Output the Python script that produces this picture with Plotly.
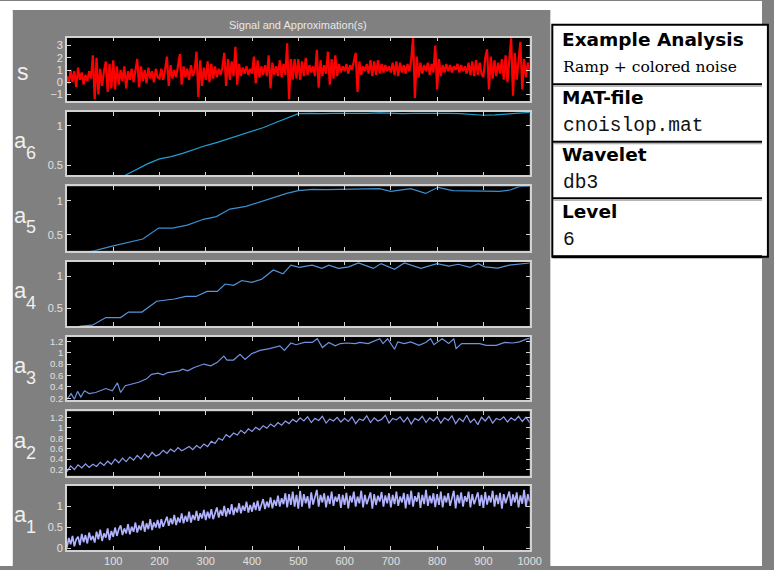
import plotly.graph_objects as go

# ---- signal and approximations (sample index 0..1000) ----
s_step = 4
s_vals = [
    0.5, -0.1, 1.0, 0.0, 0.9, -0.4, 1.2, 0.2, 0.8, -0.2, 0.6, 0.1, 0.9, 0.3, 2.2, -1.4, 2.0, -1.0, 1.1, -0.3, 0.9, 1.7, -0.8, 1.5, -0.5,
    1.8, -0.6, 1.3, -0.2, 1.0, 0.1, 1.3, -0.5, 0.9, 0.2, 1.1, 0.0, 0.8, 1.9, -0.4, 1.3, 0.1, 1.0, -0.1, 1.2, 0.3, 0.9, 0.0, 1.1, 0.4,
    0.3, 1.1, 0.2, 1.0, 2.1, -0.3, 1.4, 0.3, 1.0, 0.4, 1.2, 2.3, -0.2, 1.3, 0.4, 1.1, 0.2, 1.4, 0.5, 1.0, 2.5, -1.2, 1.8, -0.3, 1.2,
    0.2, 1.7, 0.0, 1.5, 0.3, 1.3, 0.4, 1.1, 0.6, 1.2, 2.4, -0.3, 1.9, 0.2, 1.7, 0.5, 2.9, -0.2, 1.5, 0.5, 1.2, 0.7, 1.3, 0.6, 1.1,
    0.7, 2.1, -0.1, 1.8, 0.4, 1.3, 0.6, 1.4, 0.5, 2.2, -0.5, 1.6, 0.6, 1.3, 0.5, 1.8, 0.4, 1.5, 0.6, 3.2, -1.4, 1.9, 0.2, 1.9, 0.3,
    1.9, 0.2, 1.7, 0.5, 2.0, 0.6, 1.4, 0.8, 1.3, 0.5, 2.65, -0.45, 1.8, 0.5, 1.4, 0.7, 2.5, -0.2, 1.9, 0.3, 2.2, 0.5, 1.5, 0.8, 1.3,
    0.9, 1.5, 0.7, 1.4, 1.0, 1.6, 2.4, -0.8, 1.7, 0.6, 1.3, 0.9, 1.5, 0.7, 1.8, 0.5, 1.7, 0.6, 1.8, 0.7, 1.5, 0.8, 1.4, 0.9, 1.3,
    0.8, 1.6, 0.6, 1.7, 0.5, 1.6, 0.8, 1.4, 0.7, 1.5, 0.9, 1.8, 3.7, -1.3, 2.1, 0.4, 1.6, 0.7, 1.4, 0.9, 1.6, 0.6, 1.5, 0.8, 3.0,
    -0.6, 1.9, 0.5, 1.4, 0.8, 1.5, 0.9, 1.4, 0.8, 1.3, 1.0, 1.5, 0.8, 1.4, 0.9, 1.3, 0.7, 1.6, 0.6, 1.7, 0.5, 1.8, 0.6, 1.6, 0.7,
    0.4, 2.0, 2.7, -0.6, 2.1, 0.3, 1.8, 0.5, 1.6, 0.7, 1.9, 0.2, 2.2, 0.0, 1.8, 3.6, -1.1, 2.4, 0.2, 1.9, 3.3, -0.6, 1.9, 0.4, 1.6,
    1.0,
]

a6_x = [0, 50, 100, 125, 150, 175, 200, 225, 250, 275, 300, 325, 350, 375, 400, 425, 450, 475, 500, 525,
        550, 575, 600, 625, 650, 675, 700, 725, 750, 775, 800, 825, 850, 875, 900, 925, 950, 975, 1000]
a6_y = [0.14, 0.22, 0.31, 0.37, 0.45, 0.52, 0.58, 0.61, 0.65, 0.70, 0.75, 0.79, 0.84, 0.88, 0.93, 0.98,
        1.04, 1.10, 1.155, 1.16, 1.155, 1.16, 1.16, 1.155, 1.16, 1.165, 1.16, 1.155, 1.16, 1.16, 1.165,
        1.16, 1.155, 1.145, 1.135, 1.14, 1.15, 1.165, 1.17]

a5_x = [0, 30, 60, 100, 139, 164, 198, 228, 260, 295, 323, 352, 387, 423, 451, 475, 500, 530, 560, 600,
        640, 675, 700, 743, 775, 802, 834, 870, 902, 934, 958, 977, 1000]
a5_y = [0.18, 0.22, 0.27, 0.34, 0.40, 0.44, 0.60, 0.60, 0.645, 0.73, 0.77, 0.88, 0.92, 1.00, 1.06, 1.11,
        1.15, 1.17, 1.165, 1.17, 1.17, 1.18, 1.14, 1.18, 1.11, 1.20, 1.15, 1.15, 1.15, 1.14, 1.16, 1.21, 1.22]

a4_x = [0, 30, 55, 84, 116, 133, 162, 194, 232, 257, 279, 303, 325, 342, 360, 378, 399, 421, 446, 467,
        484, 502, 530, 551, 566, 587, 609, 630, 662, 679, 708, 729, 765, 800, 825, 846, 871, 889, 903, 931,
        956, 984, 1000]
a4_y = [0.17, 0.22, 0.235, 0.354, 0.354, 0.44, 0.44, 0.61, 0.645, 0.685, 0.685, 0.765, 0.765, 0.88, 0.86,
        0.935, 0.905, 0.955, 1.10, 1.04, 1.175, 1.14, 1.175, 1.125, 1.175, 1.125, 1.15, 1.21, 1.125, 1.20,
        1.11, 1.21, 1.125, 1.20, 1.16, 1.19, 1.14, 1.20, 1.15, 1.13, 1.175, 1.20, 1.21]

a3_x = [0, 9, 16, 23, 30, 38, 48, 62, 84, 98, 109, 116, 126, 155, 172, 183, 197, 208, 218, 243,
        250, 261, 275, 296, 311, 325, 339, 346, 360, 374, 385, 399, 417, 438, 460, 470, 484, 495, 513, 530,
        541, 552, 566, 580, 591, 605, 623, 633, 651, 676, 683, 693, 708, 715, 729, 743, 761, 775, 786, 793,
        811, 825, 836, 841, 853, 874, 892, 906, 928, 946, 963, 978, 988, 997, 1000]
a3_y = [0.18, 0.28, 0.18, 0.32, 0.22, 0.33, 0.28, 0.30, 0.37, 0.33, 0.47, 0.30, 0.42, 0.48, 0.54, 0.62,
        0.64, 0.61, 0.65, 0.68, 0.71, 0.68, 0.74, 0.80, 0.77, 0.83, 0.94, 0.87, 0.87, 0.97, 0.88, 0.98,
        1.04, 1.07, 1.12, 1.04, 1.17, 1.14, 1.18, 1.18, 1.245, 1.09, 1.18, 1.12, 1.16, 1.17, 1.16, 1.18,
        1.16, 1.245, 1.16, 1.245, 1.06, 1.19, 1.16, 1.19, 1.13, 1.18, 1.245, 1.14, 1.245, 1.16, 1.245,
        1.07, 1.16, 1.16, 1.16, 1.13, 1.13, 1.18, 1.17, 1.19, 1.22, 1.25, 1.24]

a2_step = 8
a2_vals = [
    0.16, 0.27, 0.20, 0.29, 0.23, 0.31, 0.24, 0.30, 0.26, 0.34, 0.28, 0.36, 0.30, 0.40, 0.33, 0.42, 0.35, 0.44, 0.38, 0.47, 0.40, 0.50, 0.43, 0.53, 0.46,
    0.49, 0.57, 0.51, 0.59, 0.54, 0.62, 0.56, 0.60, 0.64, 0.58, 0.66, 0.61, 0.69, 0.64, 0.74, 0.70, 0.80, 0.76, 0.87, 0.82, 0.90, 0.86, 0.95, 0.89, 0.98,
    0.93, 1.01, 0.96, 1.04, 0.99, 1.07, 1.02, 1.10, 1.05, 1.13, 1.08, 1.16, 1.11, 1.19, 1.13, 1.21, 1.10, 1.18, 1.14, 1.22, 1.09, 1.17, 1.13, 1.20, 1.11,
    1.18, 1.12, 1.21, 1.08, 1.17, 1.14, 1.23, 1.10, 1.19, 1.13, 1.16, 1.24, 1.09, 1.18, 1.15, 1.21, 1.11, 1.20, 1.07, 1.18, 1.14, 1.22, 1.10, 1.19, 1.13,
    1.21, 1.09, 1.19, 1.14, 1.23, 1.08, 1.18, 1.12, 1.24, 1.10, 1.17, 1.06, 1.20, 1.13, 1.22, 1.09, 1.18, 1.15, 1.21, 1.11, 1.19, 1.14, 1.22, 1.12, 1.20,
    1.10,
]

a1_step = 4
a1_vals = [
    0.02, 0.25, 0.10, 0.30, 0.05, 0.22, 0.28, 0.08, 0.35, 0.15, 0.32, 0.12, 0.38, 0.20, 0.30, 0.14, 0.40, 0.22, 0.45, 0.18, 0.36, 0.26, 0.48, 0.20, 0.42,
    0.28, 0.50, 0.30, 0.46, 0.55, 0.32, 0.48, 0.36, 0.58, 0.34, 0.52, 0.40, 0.62, 0.38, 0.55, 0.44, 0.66, 0.40, 0.60, 0.46, 0.70, 0.44, 0.62, 0.50, 0.68,
    0.48, 0.70, 0.52, 0.66, 0.76, 0.54, 0.72, 0.58, 0.80, 0.56, 0.74, 0.62, 0.84, 0.60, 0.78, 0.64, 0.88, 0.62, 0.80, 0.68, 0.90, 0.66, 0.84, 0.72, 0.92,
    0.68, 0.88, 0.72, 0.94, 0.70, 0.86, 0.98, 0.74, 0.92, 0.78, 1.02, 0.76, 0.96, 0.82, 1.06, 0.80, 0.98, 0.86, 1.08, 0.84, 1.02, 0.90, 1.12, 0.86, 1.04,
    0.88, 1.10, 0.92, 1.14, 0.90, 1.06, 1.18, 0.94, 1.12, 0.98, 1.22, 0.96, 1.16, 1.02, 1.26, 1.00, 1.20, 1.06, 1.32, 0.98, 1.30, 1.04, 1.36, 1.00, 1.28,
    0.95, 1.38, 1.00, 1.30, 1.08, 1.25, 0.96, 1.34, 1.05, 1.22, 1.40, 1.00, 1.28, 1.10, 1.32, 0.98, 1.26, 1.06, 1.36, 1.02, 1.24, 1.12, 1.30, 0.97, 1.28,
    1.04, 1.33, 0.96, 1.26, 1.10, 1.36, 1.00, 1.24, 1.08, 1.38, 0.98, 1.28, 1.06, 1.22, 1.34, 0.95, 1.30, 1.04, 1.26, 1.12, 1.35, 1.00, 1.27, 1.08, 1.32,
    0.98, 1.28, 1.06, 1.36, 1.02, 1.24, 1.10, 1.33, 0.96, 1.30, 1.05, 1.38, 1.00, 1.25, 1.12, 1.34, 0.97, 1.28, 1.06, 1.40, 1.02, 1.26, 1.08, 1.32, 0.99,
    1.30, 1.04, 1.36, 0.98, 1.26, 1.10, 1.32, 1.02, 1.24, 1.38, 0.96, 1.28, 1.08, 1.34, 1.00, 1.25, 1.12, 1.36, 0.98, 1.30, 1.06, 1.22, 1.34, 1.02, 1.28,
    0.97, 1.35, 1.05, 1.26, 1.10, 1.38, 1.00, 1.28, 1.06, 1.33, 0.95, 1.30, 1.08, 1.24, 1.36, 1.02, 1.29, 1.10, 1.34, 0.98, 1.27, 1.07, 1.40, 1.00, 1.30,
    1.12,
]

x_ticks = [100, 200, 300, 400, 500, 600, 700, 800, 900, 1000]

# ---- page geometry (pixels) ----
W, H = 774, 570


def fx(x):
    return x / W


def fy(y):
    return 1 - y / H


GRAY = "#808080"
FRAME = "#d2d2d2"
LABFONT = "Liberation Sans, Arial, sans-serif"


def tickfont(size):
    return dict(family=LABFONT, size=size, color="#e0e0e0")


fine = ["0.2", "0.4", "0.6", "0.8", "1", "1.2"]
panels = [
    # label, sub, x, y, color, width, top, bottom, yrange, tickvals, ticktext, tick size
    ("s", "", [i * s_step for i in range(len(s_vals))], s_vals, "#ff0000", 2.2, 37, 101,
     [-1.55, 3.65], [-1, 0, 1, 2, 3], ["\u22121", "0", "1", "2", "3"], 11),
    ("a", "6", a6_x, a6_y, "#1e9fd2", 1.2, 112, 176, [0.37, 1.176], [0.5, 1], ["0.5", "1"], 11),
    ("a", "5", a5_x, a5_y, "#3a8fcf", 1.2, 187, 252, [0.267, 1.214], [0.5, 1], ["0.5", "1"], 11),
    ("a", "4", a4_x, a4_y, "#5595db", 1.2, 263, 328, [0.22, 1.23], [0.5, 1], ["0.5", "1"], 11),
    ("a", "3", a3_x, a3_y, "#6f93e0", 1.2, 339, 403, [0.16, 1.275], [0.2, 0.4, 0.6, 0.8, 1, 1.2], fine, 9.5),
    ("a", "2", [i * a2_step for i in range(len(a2_vals))], a2_vals, "#8e9cee", 1.2, 414, 479,
     [0.08, 1.314], [0.2, 0.4, 0.6, 0.8, 1, 1.2], fine, 9.5),
    ("a", "1", [i * a1_step for i in range(len(a1_vals))], a1_vals, "#b0b2ff", 1.7, 489, 554,
     [-0.04, 1.5], [0, 0.5, 1], ["0", "0.5", "1"], 11),
]


def label(text, x, y, size, color, family=LABFONT, xanchor="center"):
    return dict(text=text, x=fx(x), y=fy(y), xref="paper", yref="paper",
                xanchor=xanchor, yanchor="middle", showarrow=False,
                font=dict(family=family, size=size, color=color))


fig = go.Figure()
layout = {}
annotations = []
n_pan = len(panels)
for i, (lab, sub, xs, ys, col, lw, top, bot, yr, tv, tt, tfs) in enumerate(panels):
    k = "" if i == 0 else str(i + 1)
    fig.add_trace(go.Scatter(
        x=xs, y=ys, mode="lines", line=dict(color=col, width=lw),
        xaxis="x" + k, yaxis="y" + k, hoverinfo="skip", showlegend=False,
    ))
    last = i == n_pan - 1
    layout["xaxis" + k] = dict(
        domain=[fx(68), fx(538)], range=[0, 1000], anchor="y" + k,
        tickvals=x_ticks, ticktext=[str(v) for v in x_ticks],
        showticklabels=last, ticks="inside", ticklen=4, tickwidth=1, tickcolor=FRAME,
        showline=True, linecolor=FRAME, linewidth=1.5, mirror="ticks",
        showgrid=False, zeroline=False, tickfont=tickfont(11), fixedrange=True,
    )
    layout["yaxis" + k] = dict(
        domain=[fy(bot), fy(top)], range=yr, anchor="x" + k,
        tickvals=tv, ticktext=tt, ticks="inside", ticklen=4, tickwidth=1, tickcolor=FRAME,
        showline=True, linecolor=FRAME, linewidth=1.5, mirror="ticks",
        showgrid=False, zeroline=False, tickfont=tickfont(tfs), fixedrange=True,
    )
    mid = (top + bot) / 2
    if sub:
        annotations.append(label(lab, 21, mid - 3, 22, "#f0f0f0"))
        annotations.append(label(sub, 31, mid + 9, 18, "#f0f0f0"))
    else:
        annotations.append(label(lab, 23, mid + 3, 23, "#f0f0f0"))

annotations.append(label("Signal and Approximation(s)", 303, 24, 11, "#e8e8e8"))

# ---- information panel on the right ----
info_rows = [
    ("Example Analysis", "Ramp + colored noise", "serif"),
    ("MAT-file", "cnoislop.mat", "mono"),
    ("Wavelet", "db3", "mono"),
    ("Level", "6", "mono"),
]
head_y = [39, 97, 155, 212]
val_y = [67, 126, 184, 241]
for (head, val, kind), hy, vy in zip(info_rows, head_y, val_y):
    annotations.append(label("<b>" + head + "</b>", 569, hy, 18.5, "#000000",
                             family="DejaVu Sans", xanchor="left"))
    if kind == "serif":
        annotations.append(label(val, 570, vy, 15.5, "#000000", family="DejaVu Serif", xanchor="left"))
    else:
        annotations.append(label(val, 570, vy, 19.5, "#111111",
                                 family="Liberation Mono, DejaVu Sans Mono", xanchor="left"))

shapes = [
    dict(type="rect", xref="paper", yref="paper", x0=0, x1=1, y0=fy(9), y1=1,
         fillcolor="white", line=dict(width=0), layer="below"),
    dict(type="rect", xref="paper", yref="paper", x0=0, x1=fx(13), y0=0, y1=1,
         fillcolor="white", line=dict(width=0), layer="below"),
    dict(type="rect", xref="paper", yref="paper", x0=fx(559), x1=1, y0=0, y1=1,
         fillcolor="white", line=dict(width=0), layer="below"),
    dict(type="rect", xref="paper", yref="paper", x0=fx(561), x1=fx(780), y0=fy(258), y1=fy(24),
         fillcolor="white", line=dict(color="#000000", width=2)),
]
for sy in [84, 142, 199]:
    shapes.append(dict(type="line", xref="paper", yref="paper", x0=fx(561), x1=1, y0=fy(sy), y1=fy(sy),
                       line=dict(color="#000000", width=2)))
    shapes.append(dict(type="line", xref="paper", yref="paper", x0=fx(562), x1=1, y0=fy(sy + 2), y1=fy(sy + 2),
                       line=dict(color="#9a9a9a", width=1)))
shapes.append(dict(type="line", xref="paper", yref="paper", x0=fx(561), x1=1, y0=fy(258), y1=fy(258),
                   line=dict(color="#000000", width=3)))

fig.update_layout(
    width=W, height=H, margin=dict(l=0, r=0, t=0, b=0), autosize=False,
    paper_bgcolor=GRAY, plot_bgcolor="#000000",
    annotations=annotations, shapes=shapes, showlegend=False,
    **layout,
)

fig.write_html("out.html", config={"displayModeBar": False})
